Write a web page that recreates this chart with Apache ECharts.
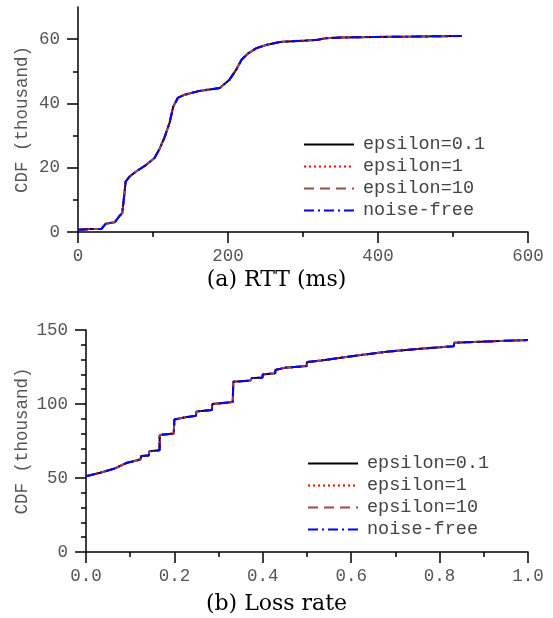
<!DOCTYPE html>
<html>
<head>
<meta charset="utf-8">
<script src="https://cdn.jsdelivr.net/npm/echarts@6/dist/echarts.min.js"></script>
<style>
  html, body { margin: 0; padding: 0; background: #fff; }
  #main { width: 553px; height: 618px; }
</style>
</head>
<body>
<div id="main"></div>
<script>
// (a) RTT CDF, x in ms, y in thousand
var rttX = [0, 15, 31, 37, 49, 55, 59, 61, 63.5, 69, 78, 91, 102, 109, 115, 122, 127, 133, 142, 162, 189, 202, 211, 218, 227, 238, 251, 269, 280, 300, 320, 330, 350, 400, 450, 512];
var rttCdf = [0.7, 0.9, 0.9, 2.6, 3.0, 4.9, 5.9, 10, 15.7, 17.3, 18.9, 20.9, 23, 26, 29.2, 33.9, 39, 41.7, 42.7, 43.9, 44.8, 47.4, 50.5, 53.6, 55.6, 57.2, 58.2, 59.1, 59.3, 59.5, 59.8, 60.3, 60.5, 60.7, 60.8, 61];

// (b) loss rate CDF, y in thousand
var lossX = [0, 0.032, 0.063, 0.093, 0.123, 0.125, 0.142, 0.143, 0.1665, 0.1667, 0.1985, 0.2, 0.225, 0.2485, 0.25, 0.285, 0.2857, 0.332, 0.3333, 0.372, 0.375, 0.399, 0.4, 0.428, 0.4286, 0.45, 0.499, 0.5, 0.532, 0.605, 0.68, 0.756, 0.832, 0.8333, 0.907, 1.0];
var lossCdf = [51.2, 53.5, 56.2, 60.3, 62.5, 64.8, 65.2, 68, 68.8, 79, 80, 89.5, 91, 92, 95, 96, 100, 101.3, 115, 115.8, 117.5, 117.8, 120, 120.8, 123, 124.5, 125.6, 128.3, 129.4, 132.4, 135.3, 137.3, 139.1, 141.4, 142.3, 143.2];

var seriesNames = ['epsilon=0.1', 'epsilon=1', 'epsilon=10', 'noise-free'];
var seriesColors = ['#000000', '#ff0000', '#9b4a46', '#0000ff'];
var seriesDash = ['solid', [2, 3], [10, 6], [10, 4, 2, 4]];

var rttTicks = [0, 200, 400, 600];
var rttMinor = [100, 300, 500];
var rttYTicks = [0, 20, 40, 60];
var rttYMinor = [10, 30, 50];
var lossTicks = [0, 0.2, 0.4, 0.6, 0.8, 1.0];
var lossMinor = [0.1, 0.3, 0.5, 0.7, 0.9];
var lossYTicks = [0, 50, 100, 150];
var lossYMinor = [10, 20, 30, 40, 60, 70, 80, 90, 110, 120, 130, 140];

var monoFont = '"Liberation Mono", "DejaVu Sans Mono", monospace';
var labelColor = '#555';

function pairs(xs, ys) {
    var res = [];
    for (let i = 0; i < xs.length; ++i) res.push([xs[i], ys[i]]);
    return res;
}

// axis with the line and the labels, no ticks
function labelAxis(grid, pos, min, max, ticks, fmt, margin, extra) {
    var ax = {
        type: 'value', gridIndex: grid, position: pos, min: min, max: max,
        splitLine: { show: false },
        axisLine: { show: true, onZero: false, lineStyle: { color: '#000', width: 1.5 } },
        axisTick: { show: false },
        axisLabel: {
            show: true, customValues: ticks, margin: margin,
            fontFamily: monoFont, fontSize: 17.5, color: labelColor,
            formatter: fmt
        }
    };
    for (var k in extra) ax[k] = extra[k];
    return ax;
}

// invisible copy of the axis that only draws ticks
function tickAxis(grid, pos, min, max, ticks, len) {
    return {
        type: 'value', gridIndex: grid, position: pos, min: min, max: max,
        splitLine: { show: false },
        axisLine: { show: false, onZero: false },
        axisTick: { show: true, inside: false, length: len, customValues: ticks, lineStyle: { color: '#000', width: 1.5 } },
        axisLabel: { show: false }
    };
}

function makeSeries(xi, yi, data) {
    return seriesNames.map(function(name, i) {
        return {
            name: name, type: 'line', xAxisIndex: xi, yAxisIndex: yi,
            data: data, symbol: 'none', smooth: false, animation: false,
            lineStyle: { color: seriesColors[i], width: 2, type: seriesDash[i] },
            itemStyle: { color: seriesColors[i] },
            z: 2 + i
        };
    });
}

function makeLegend(left, top) {
    return {
        orient: 'vertical', left: left, top: top, padding: 0,
        itemWidth: 50, itemHeight: 14, itemGap: 3,
        data: seriesNames, selectedMode: false,
        itemStyle: { opacity: 0 },
        textStyle: { fontFamily: monoFont, fontSize: 18.5, color: '#444', padding: [0, 0, 0, 4] }
    };
}

var yName = 'CDF (thousand)';
var yNameStyle = { fontFamily: monoFont, fontSize: 17.5, color: labelColor };
var titleStyle = { fontFamily: '"DejaVu Serif", serif', fontSize: 22, fontWeight: 'normal', color: '#000' };

var option = {
    animation: false,
    backgroundColor: '#fff',
    title: [
        { text: '(a) RTT (ms)', left: 'center', top: 264, textStyle: titleStyle },
        { text: '(b) Loss rate', left: 'center', top: 588, textStyle: titleStyle }
    ],
    grid: [
        { left: 78, right: 25, top: 7, bottom: 386 },
        { left: 86, right: 25, top: 330, bottom: 66 }
    ],
    legend: [makeLegend(303, 135), makeLegend(307, 454)],
    xAxis: [
        labelAxis(0, 'bottom', 0, 600, rttTicks, function(v) { return String(v); }, 15),
        tickAxis(0, 'bottom', 0, 600, rttTicks, 11),
        tickAxis(0, 'bottom', 0, 600, rttMinor, 5),
        labelAxis(1, 'bottom', 0, 1, lossTicks, function(v) { return v.toFixed(1); }, 15),
        tickAxis(1, 'bottom', 0, 1, lossTicks, 11),
        tickAxis(1, 'bottom', 0, 1, lossMinor, 5)
    ],
    yAxis: [
        labelAxis(0, 'left', 0, 70, rttYTicks, function(v) { return String(v); }, 18,
            { name: yName, nameLocation: 'middle', nameRotate: 90, nameGap: 47, nameMoveOverlap: false, nameTextStyle: yNameStyle }),
        tickAxis(0, 'left', 0, 70, rttYTicks, 11),
        tickAxis(0, 'left', 0, 70, rttYMinor, 5),
        labelAxis(1, 'left', 0, 150, lossYTicks, function(v) { return String(v); }, 18,
            { name: yName, nameLocation: 'middle', nameRotate: 90, nameGap: 55, nameMoveOverlap: false, nameTextStyle: yNameStyle }),
        tickAxis(1, 'left', 0, 150, lossYTicks, 11),
        tickAxis(1, 'left', 0, 150, lossYMinor, 5)
    ],
    series: makeSeries(0, 0, pairs(rttX, rttCdf)).concat(makeSeries(3, 3, pairs(lossX, lossCdf)))
};

var chart = echarts.init(document.getElementById('main'), null, { renderer: 'canvas' });
chart.setOption(option);
</script>
</body>
</html>
